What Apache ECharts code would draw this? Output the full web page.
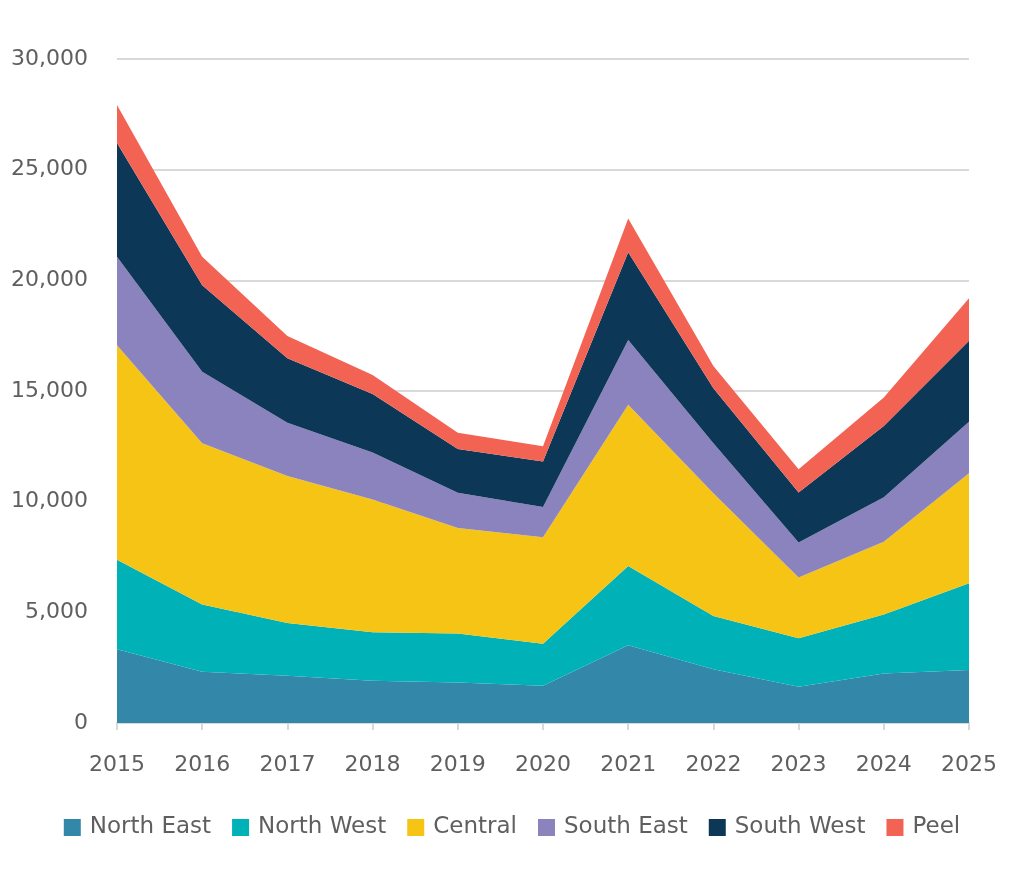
<!DOCTYPE html>
<html>
<head>
<meta charset="utf-8">
<script src="https://cdn.jsdelivr.net/npm/echarts@6/dist/echarts.min.js"></script>
<style>
  html, body { margin: 0; padding: 0; background: #fff; }
  #chart { width: 1024px; height: 883px; }
</style>
</head>
<body>
<div id="chart"></div>
<script>
var years = ['2015', '2016', '2017', '2018', '2019', '2020', '2021', '2022', '2023', '2024', '2025'];
var northEast = [3330, 2310, 2130, 1910, 1830, 1680, 3510, 2430, 1640, 2240, 2390];
var northWest = [4050, 3040, 2390, 2190, 2210, 1900, 3580, 2400, 2190, 2660, 3920];
var central   = [9690, 7290, 6640, 6000, 4770, 4810, 7290, 5550, 2740, 3290, 4970];
var southEast = [4000, 3230, 2400, 2120, 1590, 1370, 2920, 2260, 1580, 2010, 2330];
var southWest = [5130, 3910, 2920, 2640, 1980, 2060, 3970, 2480, 2260, 3220, 3660];
var peel      = [1720, 1290, 1000,  860,  730,  680, 1520, 1010, 1050, 1290, 1920];

var names = ['North East', 'North West', 'Central', 'South East', 'South West', 'Peel'];
var colors = ['#3387a8', '#00b2b7', '#f6c415', '#8b83bd', '#0c3756', '#f26354'];
var values = [northEast, northWest, central, southEast, southWest, peel];

var font = '"DejaVu Sans", sans-serif';
var textColor = '#5f5f5f';

var chart = echarts.init(document.getElementById('chart'));
chart.setOption({
    animation: false,
    color: colors,
    textStyle: {fontFamily: font},
    grid: {left: 117, right: 55, top: 59, bottom: 160},
    legend: {
        bottom: 39,
        left: 'center',
        icon: 'rect',
        itemWidth: 17,
        itemHeight: 17,
        itemGap: 21,
        textStyle: {fontSize: 23, color: textColor, fontFamily: font, padding: [0, 0, 0, 4]},
        data: names
    },
    xAxis: {
        type: 'category',
        boundaryGap: false,
        data: years,
        axisLine: {lineStyle: {color: '#d9d9d9', width: 2}},
        axisTick: {show: true, length: 7, lineStyle: {color: '#d9d9d9', width: 2}},
        axisLabel: {fontSize: 22, color: textColor, margin: 31, fontFamily: font}
    },
    yAxis: {
        type: 'value',
        min: 0,
        max: 30000,
        interval: 5000,
        axisLine: {show: false},
        axisTick: {show: false},
        splitLine: {lineStyle: {color: '#d9d9d9', width: 2}},
        axisLabel: {
            fontSize: 22, color: textColor, margin: 29, fontFamily: font,
            formatter: function (v) { return v.toLocaleString('en-US'); }
        }
    },
    series: names.map(function (n, i) {
        return {
            name: n,
            type: 'line',
            stack: 'total',
            data: values[i],
            showSymbol: false,
            lineStyle: {width: 0},
            areaStyle: {color: colors[i], opacity: 1}
        };
    })
});
</script>
</body>
</html>
